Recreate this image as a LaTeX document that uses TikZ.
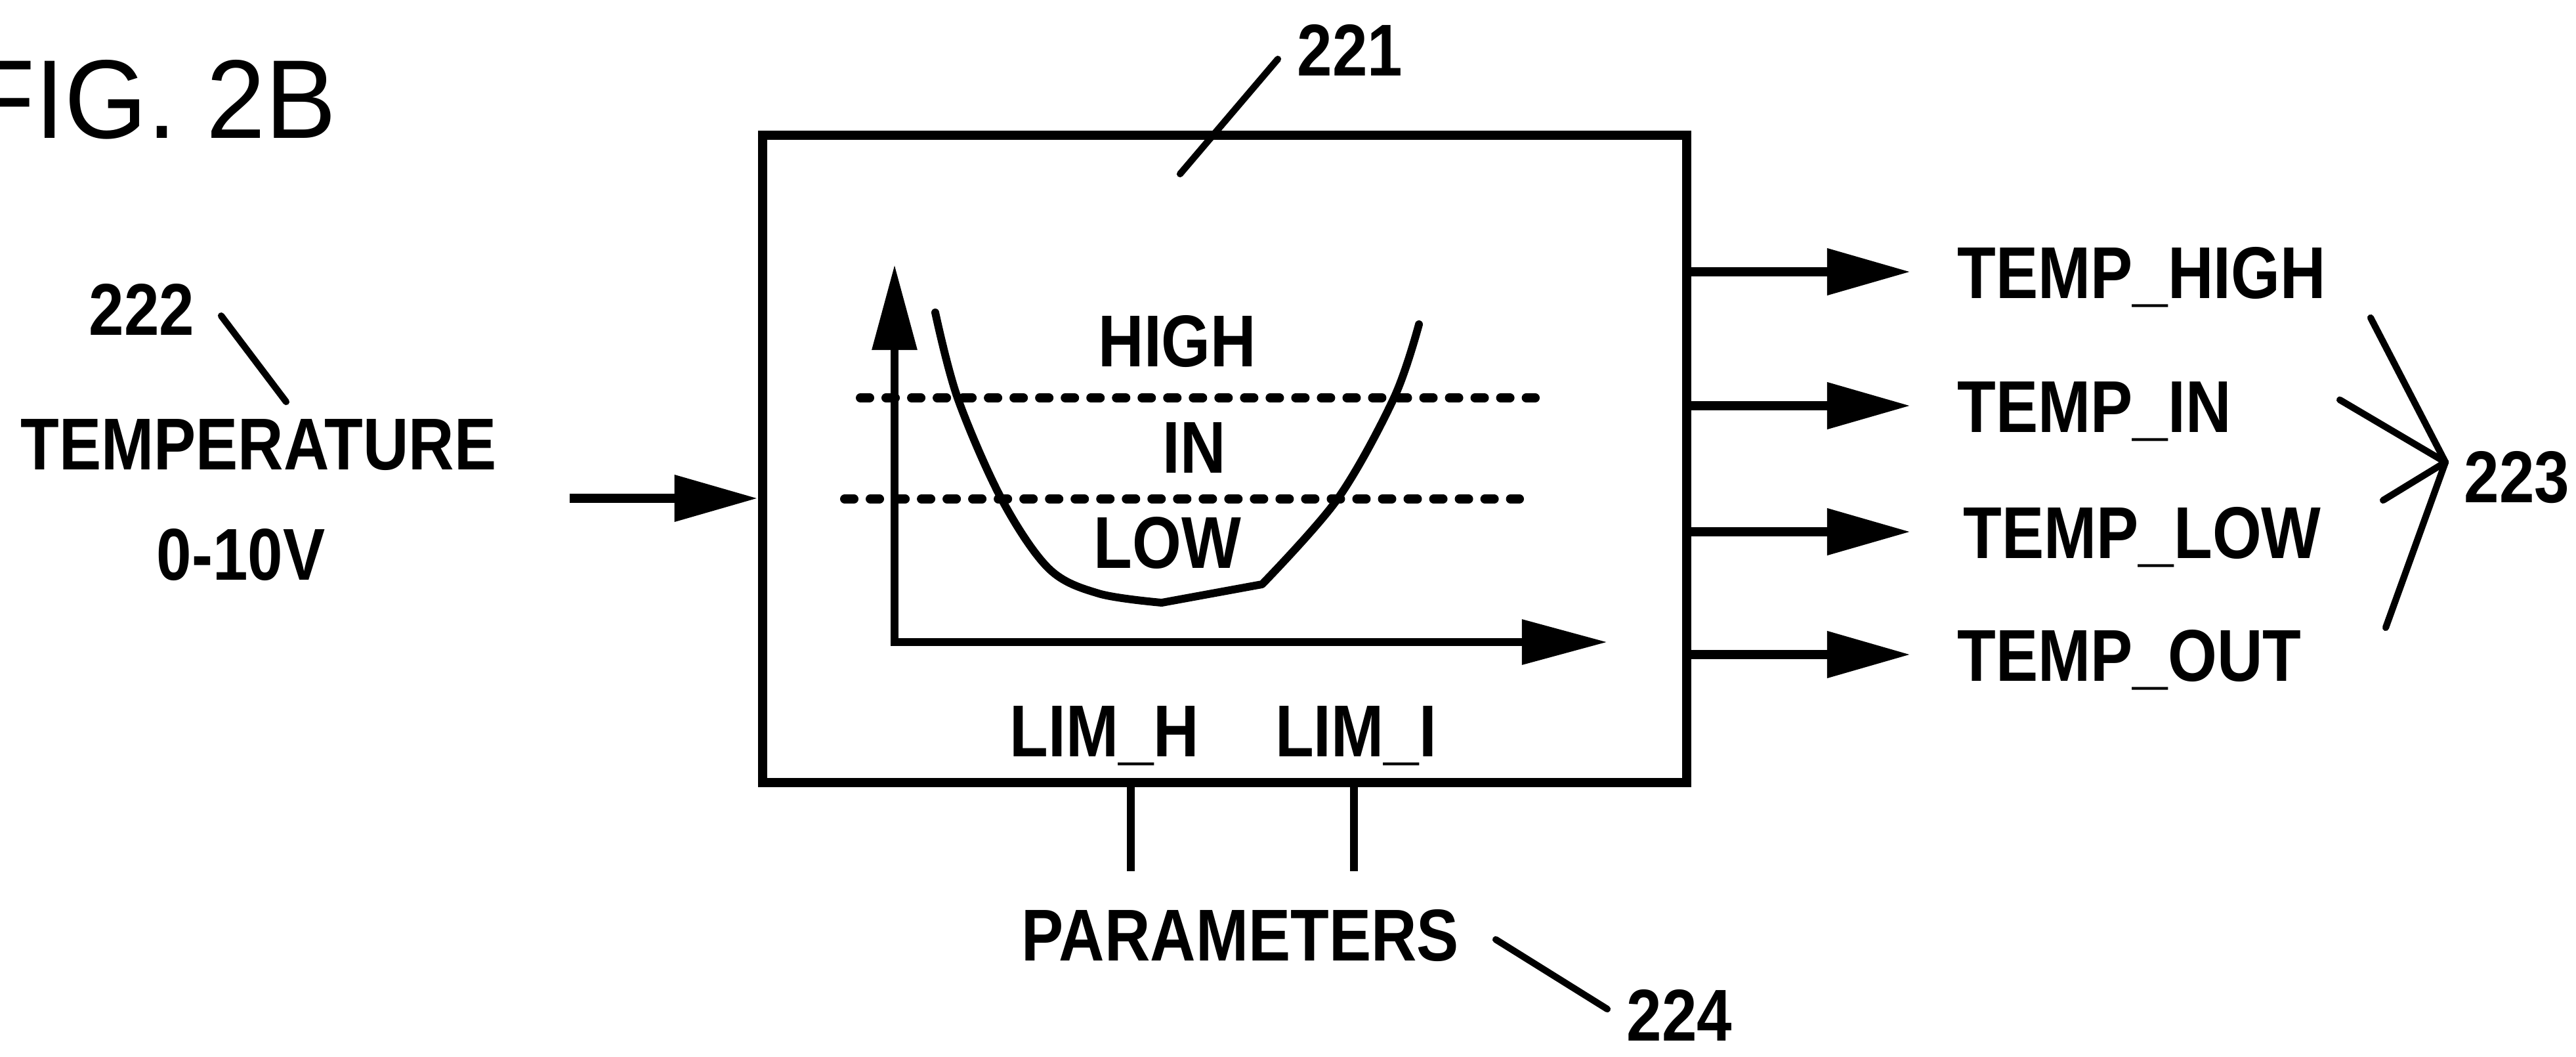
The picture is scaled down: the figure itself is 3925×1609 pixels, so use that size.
\documentclass[tikz,border=0pt]{standalone}
\usepackage{fontspec}
\newfontfamily\lbfam{Liberation Sans}[FakeStretch=0.86]
\newfontfamily\figfam{Liberation Sans}[FakeStretch=0.95]
\usetikzlibrary{arrows.meta}
\begin{document}
\begin{tikzpicture}[x=0.01cm,y=-0.01cm,
  lbl/.style={font={\lbfam\bfseries\fontsize{31.8pt}{38pt}\selectfont}, inner sep=0pt, text height=0.8cm, text depth=0pt},
  boxline/.style={draw, line width=4pt, inner sep=0pt},
  flow/.style={line width=4pt, -{Triangle[length=1.27cm,width=0.68cm]}},
  axisline/.style={line width=3.6pt, {Triangle[length=1.3cm,width=0.66cm]}-{Triangle[length=1.3cm,width=0.66cm]}},
  dotline/.style={line width=0.14cm, line cap=round, dash pattern=on 0.14cm off 0.25cm},
  curveline/.style={line width=3.4pt, line cap=round, line join=round},
  leader/.style={line width=2.9pt, line cap=round},
  parline/.style={line width=3.4pt}
]
\useasboundingbox (0,0) rectangle (3925,1609);

% title
\node[font={\figfam\fontsize{48.5pt}{56pt}\selectfont}, inner sep=0pt, anchor=base east] (fig) at (513,210) {FIG. 2B};

% main box
\node[boxline, minimum width=14.08cm, minimum height=9.86cm] (box) at (1866,699) {};

% input
\node[lbl] (n222) at (216,470) {222};
\node[lbl] (temp) at (394,675) {TEMPERATURE};
\node[lbl] (volt) at (367,843) {0-10V};
\coordinate (l222a) at (337,481);
\coordinate (l222b) at (436,612);
\draw[leader] (l222a) -- (l222b);
\coordinate (tin) at (868,759);
\draw[flow] (tin) -- (tin -| box.west);

% reference 221
\node[lbl] (n221) at (2057,75) {221};
\coordinate (l221a) at (1798,265);
\coordinate (l221b) at (1947,90);
\draw[leader] (l221a) -- (l221b);

% graph inside
\coordinate (org) at (1363,978);
\coordinate (ytip) at (1363,403);
\coordinate (xtip) at (2449,978);
\draw[axisline] (ytip) -- (org) -- (xtip);
\draw[dotline] (1311,606) -- (2339,606);
\draw[dotline] (1287,760) -- (2315,760);
\draw[curveline] plot[smooth, tension=0.55] coordinates {(1425,476) (1459,606) (1526,760) (1598,866) (1674,904) (1770,918)}
  -- (1923,890) -- plot[smooth, tension=0.55] coordinates {(1923,890) (2038,760) (2124,606) (2162,494)};
\node[lbl] (high) at (1794,518) {HIGH};
\node[lbl] (in) at (1820,680) {IN};
\node[lbl] (low) at (1779,825) {LOW};
\node[lbl] (limh) at (1683,1112) {LIM\_H};
\node[lbl] (limi) at (2066,1112) {LIM\_I};

% parameters
\coordinate (p1) at (1723,1327);
\coordinate (p2) at (2063,1327);
\draw[parline] (p1 |- box.south) -- (p1);
\draw[parline] (p2 |- box.south) -- (p2);
\node[lbl] (par) at (1890,1423) {PARAMETERS};
\node[lbl] (n224) at (2559,1545) {224};
\coordinate (l224a) at (2279,1431);
\coordinate (l224b) at (2449,1537);
\draw[leader] (l224a) -- (l224b);

% outputs
\node[lbl, anchor=west] (thigh) at (2982,414) {TEMP\_HIGH};
\node[lbl, anchor=west] (tinn) at (2982,618) {TEMP\_IN};
\node[lbl, anchor=west] (tlow) at (2991,810) {TEMP\_LOW};
\node[lbl, anchor=west] (tout) at (2982,997) {TEMP\_OUT};
\draw[flow, shorten >=0.71cm] (box.east |- thigh.west) -- (thigh.west);
\draw[flow, shorten >=0.71cm] (box.east |- tinn.west) -- (tinn.west);
\draw[flow, shorten >=0.80cm] (box.east |- tlow.west) -- (tlow.west);
\draw[flow, shorten >=0.71cm] (box.east |- tout.west) -- (tout.west);

% bracket 223
\node[lbl] (n223) at (3835,725) {223};
\coordinate (apex) at (3726,704);
\coordinate (b1) at (3612,484);
\coordinate (b2) at (3635,956);
\coordinate (b3) at (3565,609);
\coordinate (b4) at (3631,762);
\draw[leader, line join=round] (b1) -- (apex) -- (b2);
\draw[leader, line join=round] (b3) -- (apex) -- (b4);
\end{tikzpicture}
\end{document}
